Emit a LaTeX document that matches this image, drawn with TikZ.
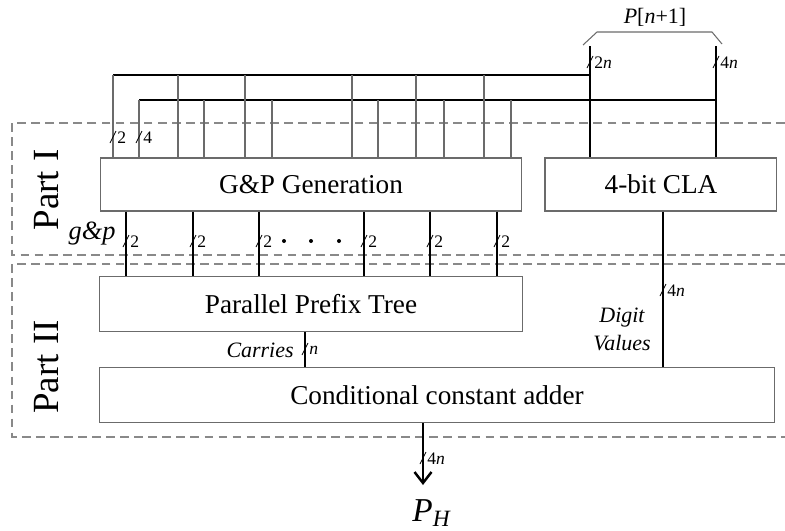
\documentclass[tikz,border=0pt]{standalone}
\usepackage{fontspec}
\setmainfont{Liberation Serif}
\usepackage{tikz}
\usetikzlibrary{positioning}
\usetikzlibrary{arrows.meta}
\definecolor{linegray}{gray}{0.42}
\tikzstyle{blk} = [draw=linegray,line width=0.6pt,inner sep=0pt,font=\fontsize{15.5}{18}\selectfont]
\tikzstyle{wire} = [linegray,line width=0.6pt]
\tikzstyle{bus} = [line width=1.4pt]
\tikzstyle{part} = [draw=linegray!80,line width=0.6pt,dash pattern=on 5pt off 3pt]
\tikzstyle{lbl} = [inner sep=0pt,font=\fontsize{10}{12}\selectfont]
\tikzstyle{sig} = [inner sep=0pt,font=\fontsize{12.5}{16}\selectfont\itshape]
\tikzstyle{arrow} = [-{Straight Barb[length=0.22cm,width=0.34cm]}]

% bus width mark: slash across the line and its width
\newcommand{\wmark}[3]{%
	\draw[line width=0.5pt] (#1,#2) ++(-3,6) -- ++(6,-12);
	\node[lbl,anchor=west] (mk#1-#2) at (#1+4,#2+1) {#3};}

\begin{document}
\begin{tikzpicture}[x=0.02cm,y=-0.02cm]
	\useasboundingbox (0,0) rectangle (785,531);

	%Nodes
	\node[blk,minimum width=8.44cm,minimum height=1.06cm] (gp) at (311,184.5) {G\&P Generation};
	\node[blk,minimum width=4.64cm,minimum height=1.06cm,right=0.44cm of gp] (cla) {4-bit CLA};
	\node[blk,minimum width=8.46cm,minimum height=1.1cm,below=1.29cm of gp] (ppt) {Parallel Prefix Tree};
	\node[blk,minimum width=13.5cm,minimum height=1.1cm,below=0.7cm of ppt.south west,anchor=north west] (cca) {Conditional constant adder};

	\node[font=\fontsize{21}{24}\selectfont,rotate=90] (part1) at (47,190) {Part I};
	\node[font=\fontsize{21}{24}\selectfont,rotate=90] (part2) at (47,367) {Part II};

	%Frames
	\draw[part] (785,123) -- (12,123) -- (12,255) -- (785,255);
	\draw[part] (785,264) -- (12,264) -- (12,437) -- (785,437);

	%Inputs
	\coordinate (in2n) at (590,46);
	\coordinate (in4n) at (716,46);
	\draw[wire] (583,45) -- (597,32) -- (712,32) -- (722,44);
	\node[inner sep=0pt,font=\fontsize{12.5}{16}\selectfont] (pin) at (655,17) {\textit{P}[\textit{n}+1]};
	\draw[bus] (in2n) -- (in2n |- cla.north);
	\draw[bus] (in4n) -- (in4n |- cla.north);
	\wmark{590}{62}{2\textit{n}}
	\wmark{716}{62}{4\textit{n}}
	\draw[bus] (113,75) -- (113,75 -| in2n);
	\draw[bus] (139,100) -- (139,100 -| in4n);
	\foreach \x in {113,178,245,352,416,484}
		\draw[wire] (\x,75) -- (\x,75 |- gp.north);
	\foreach \x in {139,204,272,378,444,511}
		\draw[wire] (\x,100) -- (\x,100 |- gp.north);
	\wmark{113}{137}{2}
	\wmark{139}{137}{4}

	%Lines
	\foreach \x in {126,193,259,364,430,497}{
		\draw[bus] (\x,0 |- gp.south) -- (\x,0 |- ppt.north);
		\wmark{\x}{241}{2}
	}
	\foreach \x in {284,311,339}
		\fill (\x,241) circle (0.04cm);
	\node[inner sep=0pt,font=\fontsize{15}{18}\selectfont\itshape] (gpl) at (92,234) {g\&p};

	\draw[bus] (305,0 |- ppt.south) -- (305,0 |- cca.north);
	\wmark{305}{349}{\textit{n}}
	\node[sig,anchor=east] (car) at (294,350) {Carries};

	\draw[line width=1.1pt] (663,0 |- cla.south) -- (663,0 |- cca.north);
	\wmark{663}{290}{4\textit{n}}
	\node[sig,align=center] (dv) at (622,329) {Digit\\Values};

	\coordinate (out) at (423,485);
	\draw[bus,arrow] (out |- cca.south) -- (out);
	\wmark{423}{458}{4\textit{n}}
	\node[inner sep=0pt,font=\fontsize{19}{22}\selectfont] (ph) at (432,513) {\textit{P}\textsubscript{\textit{H}}};

\end{tikzpicture}
\end{document}
